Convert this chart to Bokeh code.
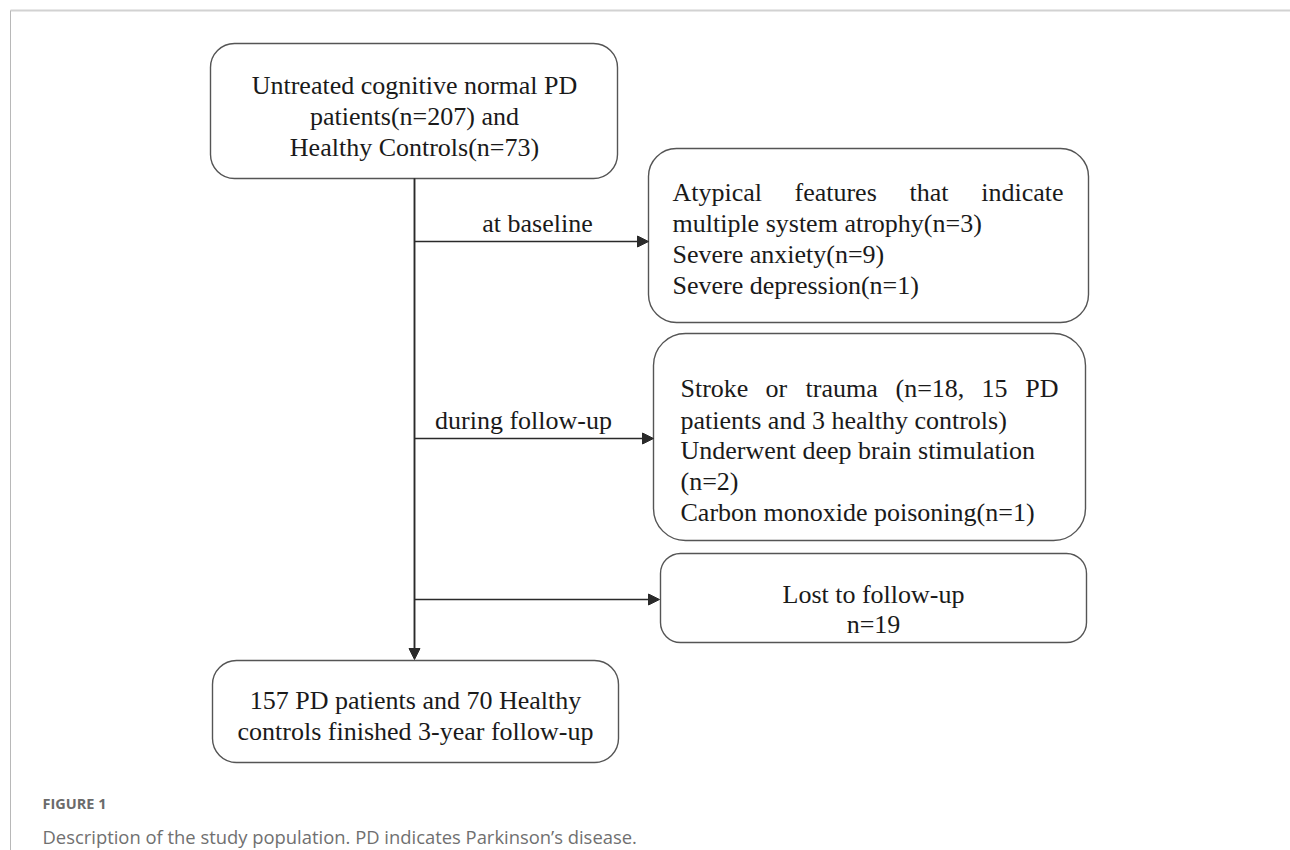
from bokeh.plotting import figure
from bokeh.models import Range1d, BoxAnnotation, Arrow, NormalHead, ColumnDataSource
from bokeh.core.properties import value
from bokeh.embed import file_html
from bokeh.resources import INLINE

# ---------------- data (texts of the flowchart) ----------------
start_lines = ["Untreated cognitive normal PD", "patients(n=207) and", "Healthy Controls(n=73)"]
baseline_label = "at baseline"
baseline_first = ["Atypical", "features", "that", "indicate"]
baseline_lines = ["multiple system atrophy(n=3)", "Severe anxiety(n=9)", "Severe depression(n=1)"]
followup_label = "during follow-up"
followup_first = ["Stroke", "or", "trauma", "(n=18,", "15", "PD"]
followup_lines = ["patients and 3 healthy controls)", "Underwent deep brain stimulation",
                  "(n=2)", "Carbon monoxide poisoning(n=1)"]
lost_lines = ["Lost to follow-up", "n=19"]
final_lines = ["157 PD patients and 70 Healthy", "controls finished 3-year follow-up"]
fig_label = "FIGURE 1"
caption = "Description of the study population. PD indicates Parkinson\u2019s disease."

# ---------------- layout (page pixel coordinates) ----------------
W, H = 1290, 850
p = figure(width=W, height=H, x_range=Range1d(0, W), y_range=Range1d(H, 0),
           output_backend="svg", toolbar_location=None, min_border=0)
p.axis.visible = False
p.grid.visible = False
p.outline_line_color = None
p.background_fill_color = "white"
p.border_fill_color = "white"

SERIF = value("Liberation Serif")
FS = "26px"
TXT = "#1a1a1a"
BOX_LINE = "#555555"
ARROW = "#2a2a2a"

# frame lines
p.segment(x0=[10, 10], y0=[10, 10], x1=[1290, 10], y1=[10, 850],
          line_color=["#d2d2d2", "#b8b8b8"], line_width=[2, 1])

boxes = [  # left, right, top, bottom, radius
    (210, 617, 43, 178, 24),
    (648, 1088, 148, 322, 28),
    (653, 1085, 333, 540, 32),
    (660, 1086, 553, 642, 20),
    (212, 618, 660, 762, 24),
]
for l, r, t, b, rad in boxes:
    p.add_layout(BoxAnnotation(left=l, right=r, top=t, bottom=b, border_radius=rad,
                               fill_color="white", fill_alpha=1.0, level="underlay",
                               line_color=BOX_LINE, line_alpha=1.0, line_width=1.4))

# connectors
spine_x = 414
p.segment(x0=[spine_x], y0=[178], x1=[spine_x], y1=[650], line_color=ARROW, line_width=1.5)
arrows = [(spine_x, 178, spine_x, 659), (spine_x, 241, 648, 241),
          (spine_x, 438, 653, 438), (spine_x, 599, 659, 599)]
for xs, ys, xe, ye in arrows:
    p.add_layout(Arrow(end=NormalHead(size=11, fill_color=ARROW, line_color=ARROW, line_width=1),
                       x_start=xs, y_start=ys, x_end=xe, y_end=ye,
                       line_color=ARROW, line_width=1.5))


def put(xs, ys, texts, align="left", size=FS, font=SERIF, color=TXT, style="normal"):
    src = ColumnDataSource(dict(x=xs, y=ys, t=texts))
    p.text(x="x", y="y", text="t", source=src, text_font=font, text_font_size=size,
           text_color=color, text_align=align, text_baseline="alphabetic",
           text_font_style=style)


# start box
put([414] * 3, [85, 116, 147], start_lines, align="center")
# label texts
put([537], [223], [baseline_label], align="center")
put([523], [420], [followup_label], align="center")
# baseline exclusion box (justified first line)
put([672, 794, 909], [192] * 3, baseline_first[:3])
put([1063], [192], baseline_first[3:], align="right")
put([672] * 3, [223, 254, 285], baseline_lines)
# follow-up exclusion box (justified first line)
put([680, 765, 805, 895, 981], [388] * 5, followup_first[:5])
put([1058], [388], followup_first[5:], align="right")
put([680] * 4, [420, 450, 481, 512], followup_lines)
# lost box
put([873] * 2, [594, 624], lost_lines, align="center")
# final box
put([415] * 2, [700, 731], final_lines, align="center")

# caption
put([42], [803], [fig_label], size="14.5px", font=value("Open Sans"), color="#6b6b6b", style="bold")
put([42], [836], [caption], size="18.4px", font=value("Open Sans"), color="#707070")

open("out.html", "w").write(file_html(p, INLINE))
